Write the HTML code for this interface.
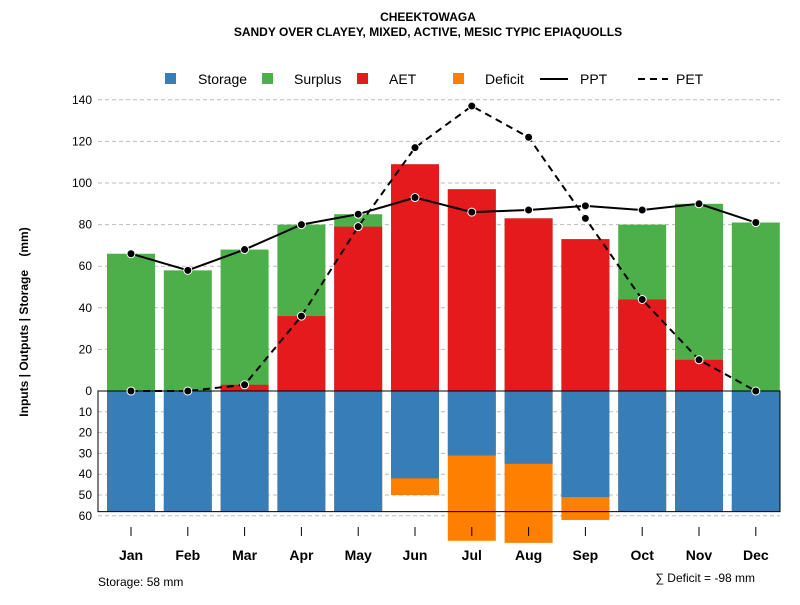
<!DOCTYPE html>
<html><head><meta charset="utf-8"><style>
body{margin:0;background:#fff;font-family:"Liberation Sans",sans-serif}
svg text{font-family:"Liberation Sans",sans-serif}
</style></head><body>
<svg id="c" width="800" height="600" xmlns="http://www.w3.org/2000/svg">
<text x="428" y="21" text-anchor="middle" font-size="12" font-weight="bold">CHEEKTOWAGA</text>
<text x="428" y="36" text-anchor="middle" font-size="12" font-weight="bold">SANDY OVER CLAYEY, MIXED, ACTIVE, MESIC TYPIC EPIAQUOLLS</text>
<g>
<rect x="165" y="73" width="11" height="11" fill="#377eb8"/>
<text x="198" y="84" font-size="14">Storage</text>
<rect x="262" y="73" width="11" height="11" fill="#4daf4a"/>
<text x="294" y="84" font-size="14">Surplus</text>
<rect x="357" y="73" width="11" height="11" fill="#e41a1c"/>
<text x="389" y="84" font-size="14">AET</text>
<rect x="453" y="73" width="11" height="11" fill="#ff7f00"/>
<text x="485" y="84" font-size="14">Deficit</text>
<line x1="540" y1="79" x2="568" y2="79" stroke="#000" stroke-width="2"/>
<text x="580" y="84" font-size="14">PPT</text>
<line x1="638" y1="79" x2="668" y2="79" stroke="#000" stroke-width="2" stroke-dasharray="7,5"/>
<text x="676" y="84" font-size="14">PET</text>
</g>
<text transform="translate(28,322) rotate(-90)" text-anchor="middle" font-size="12" font-weight="bold">Inputs | Outputs | Storage&#160;&#160;&#160;&#160;(mm)</text>
<text x="98" y="586" font-size="12">Storage: 58 mm</text>
<text x="755" y="582" text-anchor="end" font-size="12">∑ Deficit = -98 mm</text>
<g id="g"></g>
</svg>
<script>
const months=["Jan","Feb","Mar","Apr","May","Jun","Jul","Aug","Sep","Oct","Nov","Dec"];
const aet=[0,0,3,36,79,109,97,83,73,44,15,0];
const surplus=[66,58,65,44,6,0,0,0,0,36,75,81];
const storage=[58,58,58,58,58,42,31,35,51,58,58,58];
const deficit=[0,0,0,0,0,8,41,38,11,0,0,0];
const ppt=[66,58,68,80,85,93,86,87,89,87,90,81];
const pet=[0,0,3,36,79,117,137,122,83,44,15,0];
const posTicks=[0,20,40,60,80,100,120,140];
const negTicks=[10,20,30,40,50,60];
const NS="http://www.w3.org/2000/svg",g=document.getElementById('g');
const y=v=>391-v*2.08, x=i=>131+i*56.8;
function mk(t,a){const e=document.createElementNS(NS,t);for(const k in a)e.setAttribute(k,a[k]);g.appendChild(e);return e;}
let e;
posTicks.forEach(t=>{if(t>0){e=mk('line',{x1:98,x2:780,y1:y(t),y2:y(t),stroke:'#bbb','stroke-dasharray':'4,3'});

}
e=mk('text',{x:92,y:y(t)+4,'text-anchor':'end','font-size':12});e.textContent=t;

});
negTicks.forEach(t=>{e=mk('line',{x1:98,x2:780,y1:y(-t),y2:y(-t),stroke:'#bbb','stroke-dasharray':'4,3'});


e=mk('text',{x:92,y:y(-t)+4,'text-anchor':'end','font-size':12});e.textContent=t;

});
const bw=48;
months.forEach((m,i)=>{const L=x(i)-bw/2;
e=mk('rect',{x:L,y:391,width:bw,height:(storage[i]+deficit[i])*2.08,fill:'#ff7f00'});


e=mk('rect',{x:L,y:391,width:bw,height:storage[i]*2.08,fill:'#377eb8'});


e=mk('rect',{x:L,y:y(aet[i]+surplus[i]),width:bw,height:(aet[i]+surplus[i])*2.08,fill:'#4daf4a'});


e=mk('rect',{x:L,y:y(aet[i]),width:bw,height:aet[i]*2.08,fill:'#e41a1c'});


e=mk('line',{x1:x(i),x2:x(i),y1:527,y2:536,stroke:'#000'});


e=mk('text',{x:x(i),y:560,'text-anchor':'middle','font-size':14,'font-weight':'bold'});e.textContent=m;

});
e=mk('rect',{x:98,y:391,width:682,height:58*2.08,fill:'none',stroke:'#000','stroke-width':1});


function line(arr,name,dash){e=mk('polyline',{points:arr.map((v,i)=>x(i)+','+y(v)).join(' '),fill:'none',stroke:'#000','stroke-width':2,'stroke-dasharray':dash});


arr.forEach((v,i)=>{e=mk('circle',{cx:x(i),cy:y(v),r:4,fill:'#000',stroke:'#fff','stroke-width':1});

});}
line(pet,'pet','7,5');line(ppt,'ppt','none');
</script>
</body></html>
